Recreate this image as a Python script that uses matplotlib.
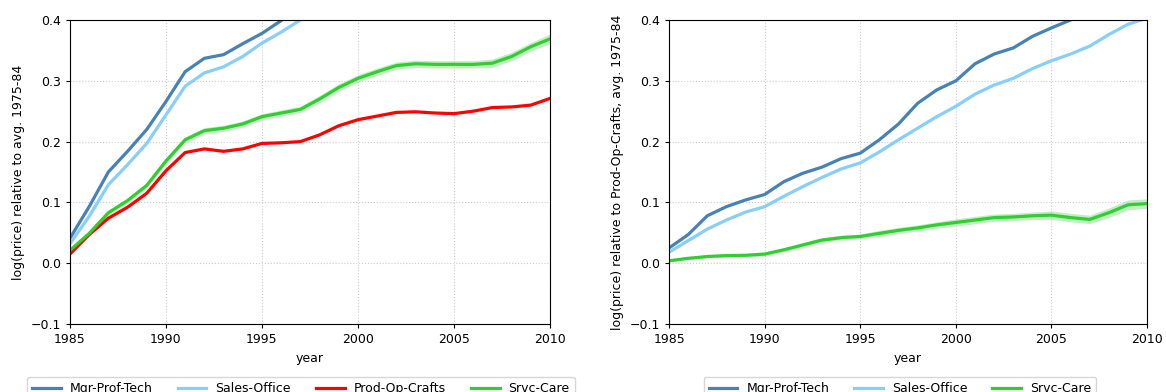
import matplotlib

matplotlib.use("Agg")
import matplotlib.pyplot as plt
import numpy as np

YEARS = list(range(1985, 2011))

# left panel: log(price) relative to avg. 1975-84
LEFT_MGR = [0.041, 0.093, 0.150, 0.184, 0.220, 0.266, 0.315, 0.337, 0.343, 0.361,
            0.378, 0.399, 0.429, 0.474, 0.511, 0.536, 0.570, 0.592, 0.603, 0.620,
            0.633, 0.650, 0.670, 0.690, 0.710, 0.730]
LEFT_SALES = [0.032, 0.077, 0.129, 0.162, 0.197, 0.244, 0.291, 0.313, 0.323, 0.340,
              0.362, 0.380, 0.400, 0.433, 0.467, 0.494, 0.520, 0.541, 0.553, 0.567,
              0.579, 0.594, 0.613, 0.633, 0.653, 0.671]
LEFT_PROD = [0.015, 0.047, 0.074, 0.092, 0.115, 0.152, 0.182, 0.188, 0.184, 0.188,
             0.197, 0.198, 0.200, 0.211, 0.226, 0.236, 0.242, 0.248, 0.249, 0.247,
             0.246, 0.250, 0.256, 0.257, 0.260, 0.271]
LEFT_SRVC = [0.021, 0.049, 0.083, 0.103, 0.128, 0.168, 0.203, 0.218, 0.222, 0.229,
             0.241, 0.247, 0.253, 0.270, 0.289, 0.304, 0.315, 0.325, 0.328, 0.327,
             0.327, 0.327, 0.329, 0.340, 0.356, 0.369]
LEFT_SRVC_ERR = [0.003, 0.003, 0.004, 0.004, 0.004, 0.005, 0.005, 0.005, 0.005, 0.005,
                 0.005, 0.005, 0.005, 0.006, 0.006, 0.006, 0.006, 0.006, 0.006, 0.006,
                 0.006, 0.006, 0.007, 0.007, 0.007, 0.008]

# right panel: log(price) relative to Prod-Op-Crafts
RIGHT_MGR = [0.025, 0.047, 0.078, 0.093, 0.104, 0.113, 0.134, 0.148, 0.158, 0.172,
             0.181, 0.203, 0.229, 0.263, 0.285, 0.300, 0.328, 0.344, 0.354, 0.373,
             0.387, 0.400, 0.414, 0.433, 0.450, 0.459]
RIGHT_SALES = [0.018, 0.037, 0.056, 0.071, 0.084, 0.093, 0.110, 0.126, 0.141, 0.155,
               0.165, 0.183, 0.203, 0.222, 0.241, 0.258, 0.278, 0.293, 0.304, 0.320,
               0.333, 0.344, 0.357, 0.376, 0.393, 0.403]
RIGHT_SRVC = [0.004, 0.008, 0.011, 0.0125, 0.013, 0.015, 0.022, 0.030, 0.038, 0.042,
              0.044, 0.049, 0.054, 0.058, 0.063, 0.067, 0.071, 0.075, 0.076, 0.078,
              0.079, 0.075, 0.072, 0.083, 0.096, 0.098]
RIGHT_SRVC_ERR = [0.002, 0.002, 0.002, 0.003, 0.003, 0.003, 0.003, 0.004, 0.004, 0.004,
                  0.004, 0.005, 0.005, 0.005, 0.005, 0.006, 0.006, 0.006, 0.006, 0.006,
                  0.007, 0.007, 0.007, 0.008, 0.008, 0.008]

COLORS = {
    "Mgr-Prof-Tech": "#4682b4",
    "Sales-Office": "#87cefa",
    "Prod-Op-Crafts": "#ff0000",
    "Srvc-Care": "#32cd32",
}

plt.rcParams["font.size"] = 9


def _style_axis(axis, ylabel):
    axis.set_xlim(1985, 2010)
    axis.set_ylim(-0.1, 0.4)
    axis.set_xticks(range(1985, 2011, 5))
    axis.set_yticks(np.arange(-0.1, 0.41, 0.1))
    axis.set_xlabel("year", fontsize=9)
    axis.set_ylabel(ylabel, fontsize=9)
    axis.grid(color="#cccccc", linestyle=":", linewidth=0.8)
    axis.tick_params(labelsize=9, length=3)


def _legend(axis, x_center, ncol):
    axis.legend(loc="upper center", bbox_to_anchor=(x_center, -0.174), ncol=ncol,
                frameon=True, fontsize=9, handlelength=2.3, handletextpad=0.72,
                columnspacing=2.0, borderaxespad=0.0)


figure = plt.figure(figsize=(11.66, 3.92), dpi=100)
left_axis = figure.add_axes([0.060, 0.1735, 0.4117, 0.7755])
right_axis = figure.add_axes([0.5738, 0.1735, 0.4100, 0.7755])

years = np.array(YEARS)
lw = 2.3

left_axis.plot(years, LEFT_MGR, color=COLORS["Mgr-Prof-Tech"], lw=lw, label="Mgr-Prof-Tech")
left_axis.plot(years, LEFT_SALES, color=COLORS["Sales-Office"], lw=lw, label="Sales-Office")
left_axis.plot(years, LEFT_PROD, color=COLORS["Prod-Op-Crafts"], lw=lw, label="Prod-Op-Crafts")
left_srvc = np.array(LEFT_SRVC)
left_err = np.array(LEFT_SRVC_ERR)
left_axis.fill_between(years, left_srvc - left_err, left_srvc + left_err,
                       color=COLORS["Srvc-Care"], alpha=0.3, lw=0)
left_axis.plot(years, left_srvc, color=COLORS["Srvc-Care"], lw=lw, label="Srvc-Care")
_style_axis(left_axis, "log(price) relative to avg. 1975-84")
_legend(left_axis, 0.481, 4)

right_axis.plot(years, RIGHT_MGR, color=COLORS["Mgr-Prof-Tech"], lw=lw, label="Mgr-Prof-Tech")
right_axis.plot(years, RIGHT_SALES, color=COLORS["Sales-Office"], lw=lw, label="Sales-Office")
right_srvc = np.array(RIGHT_SRVC)
right_err = np.array(RIGHT_SRVC_ERR)
right_axis.fill_between(years, right_srvc - right_err, right_srvc + right_err,
                        color=COLORS["Srvc-Care"], alpha=0.3, lw=0)
right_axis.plot(years, right_srvc, color=COLORS["Srvc-Care"], lw=lw, label="Srvc-Care")
_style_axis(right_axis, "log(price) relative to Prod-Op-Crafts, avg. 1975-84")
_legend(right_axis, 0.483, 3)

figure.savefig("out.png", dpi=100)
plt.close(figure)
